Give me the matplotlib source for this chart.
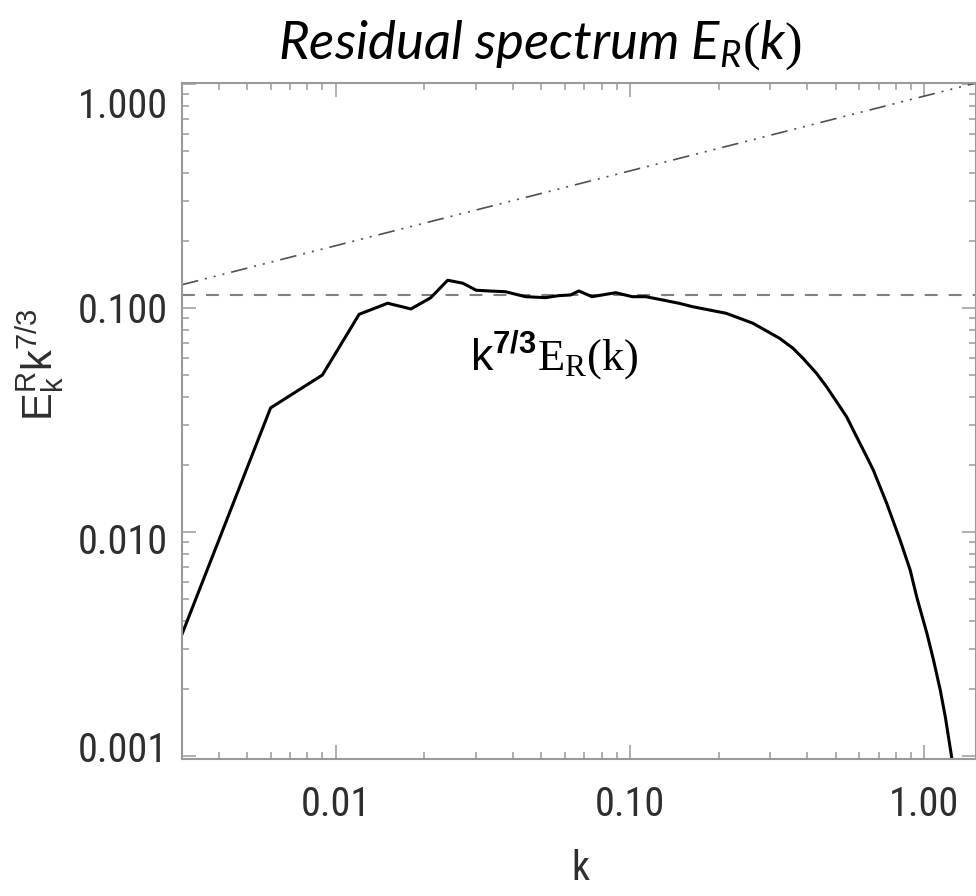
import matplotlib
matplotlib.use("Agg")
import matplotlib.pyplot as plt
import matplotlib.transforms as mtransforms
from matplotlib.ticker import LogLocator, NullFormatter

plt.rcParams['mathtext.fontset'] = 'custom'
plt.rcParams['mathtext.rm'] = 'Liberation Serif'
plt.rcParams['mathtext.sf'] = 'Liberation Sans'
plt.rcParams['mathtext.bf'] = 'Liberation Sans:bold'
plt.rcParams['mathtext.it'] = 'Lato:italic'

# compensated residual spectrum k^{7/3} E_R(k)
k = [0.003, 0.006, 0.009, 0.012, 0.015, 0.018, 0.021, 0.024, 0.027, 0.030,
     0.0335, 0.0377, 0.0441, 0.0516, 0.0572, 0.0628, 0.0670, 0.0743, 0.0894,
     0.1018, 0.1131, 0.1289, 0.1469, 0.1632, 0.2122, 0.2615, 0.3225, 0.3580,
     0.3873, 0.4304, 0.4656, 0.5035, 0.5447, 0.5892, 0.6374, 0.6714, 0.7458,
     0.8279, 0.8959, 0.9442, 1.0214, 1.0757, 1.134, 1.1796, 1.243, 1.256]
spec = [0.0035, 0.0358, 0.0502, 0.0937, 0.105, 0.099, 0.111, 0.133, 0.129, 0.120,
        0.119, 0.1182, 0.1123, 0.1112, 0.1135, 0.1143, 0.1191, 0.1123, 0.1170,
        0.1123, 0.1123, 0.1086, 0.1049, 0.1013, 0.0947, 0.0855, 0.0732, 0.0661,
        0.0596, 0.0511, 0.0445, 0.0382, 0.0327, 0.0266, 0.0217, 0.0189, 0.01342,
        0.00921, 0.00677, 0.0051, 0.00353, 0.00268, 0.00197, 0.001497, 0.000967, 0.0009]

# reference lines: flat level and k^{1/3} slope
flat_level = 0.1147
slope_k = [0.003, 1.5]
slope_val = [0.127, 1.01]

xticks = [0.01, 0.1, 1.0]
xtick_labels = ['0.01', '0.10', '1.00']
yticks = [1.0, 0.1, 0.01, 0.001]
ytick_labels = ['1.000', '0.100', '0.010', '0.001']

axis_grey = '#9a9a9a'
narrow = ['Roboto Condensed', 'Liberation Sans']
tick_font = {'family': narrow, 'size': 29}

fig = plt.figure(figsize=(9.76, 8.96), dpi=100)
ax = fig.add_axes([0.1865, 0.1529, 0.8135, 0.7545])

ax.plot(slope_k, slope_val, color='#505050', lw=1.2,
        dashes=(10, 4.2, 1.2, 4.2, 1.2, 4.2, 1.2, 4.2))
ax.axhline(flat_level, color='#808080', lw=1.5, dashes=(6.2, 5.3))
ax.plot(k, spec, color='black', lw=2.2, solid_joinstyle='round')

ax.set_xscale('log')
ax.set_yscale('log')
ax.set_xlim(0.003, 1.5)
ax.set_ylim(0.00097, 1.01)

ax.set_xticks(xticks)
ax.set_xticklabels(xtick_labels, fontdict=tick_font)
ax.set_yticks(yticks)
ax.set_yticklabels(ytick_labels, fontdict=tick_font)
for axis in (ax.xaxis, ax.yaxis):
    axis.set_minor_locator(LogLocator(base=10, subs=range(2, 10)))
    axis.set_minor_formatter(NullFormatter())

ax.tick_params(which='both', direction='in', top=True, right=True,
               color=axis_grey, width=1.1, labelcolor='#2e2e2e')
ax.tick_params(which='major', length=10)
ax.tick_params(which='minor', length=5)
ax.tick_params(axis='x', which='major', pad=19)
ax.tick_params(axis='y', which='major', pad=10)
for sp in ax.spines.values():
    sp.set_color(axis_grey)
    sp.set_linewidth(1.5)

# the outer y labels sit inside the axis range in the original
for tick, dy in zip(ax.yaxis.get_major_ticks(), [-19, 0, -6, 10]):
    tick.label1.set_transform(tick.label1.get_transform() +
                              mtransforms.ScaledTranslation(0, dy / 100, fig.dpi_scale_trans))

ax.text(0.363, 0.575, r'$\mathsf{k}^{\mathbf{7/3}}\mathrm{E}_{\mathrm{R}}\mathrm{(k)}$',
        transform=ax.transAxes, fontsize=32, color='black')

fig.text(40 / 976, 1 - 365 / 896, r'$\mathsf{E}^{\mathsf{R}}_{\mathsf{k}}\mathsf{k}^{\mathsf{7/3}}$',
         rotation=90, ha='center', va='center', fontsize=30, color='#2e2e2e')
fig.text(580 / 976, 1 - 868 / 896, 'k', ha='center', va='center',
         fontsize=29, family=narrow, color='#2e2e2e')
fig.text(540 / 976, 1 - 45 / 896, r'Residual spectrum $\mathit{E_R(k)}$',
         ha='center', va='center', fontsize=38, family='Lato', style='italic')

fig.savefig('out.png', dpi=100)
